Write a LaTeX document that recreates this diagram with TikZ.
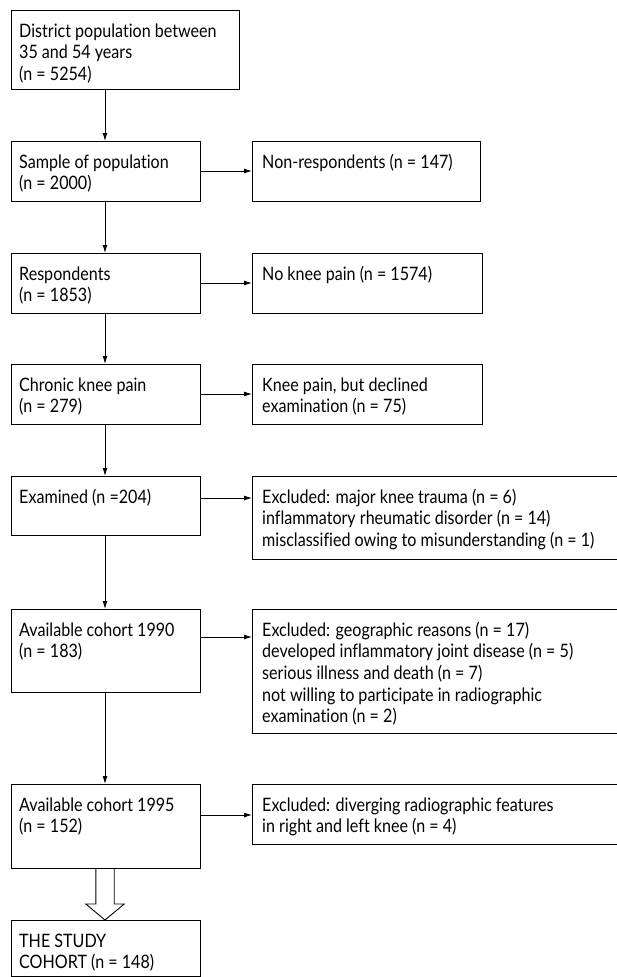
\documentclass[tikz,border=0pt]{standalone}
\usepackage{fontspec}
\setmainfont{Lato}[FakeStretch=0.87, Ligatures=NoCommon]
\usetikzlibrary{arrows.meta,calc}
\tikzset{
  box/.style={draw, line width=1pt, anchor=north west, inner sep=0pt, outer sep=0pt},
  txt/.style={anchor=base west, inner sep=0pt, font=\fontsize{18.5}{21.7}\selectfont},
  arr/.style={line width=0.9pt, -{Latex[length=8pt,width=5pt]}},
}
\newcommand\tl[1]{\begin{tabular}[t]{@{}l@{}}#1\end{tabular}}
\begin{document}
\begin{tikzpicture}[x=1pt,y=-1pt]
\useasboundingbox[fill=white] (0,0) rectangle (616,977);
\coordinate (ax) at (105,0);
% left column
\node[box, minimum width=228pt, minimum height=79pt] (b1) at (11,10) {};
\node[box, minimum width=189.5pt, minimum height=60pt] (b2) at (11,141) {};
\node[box, minimum width=189.5pt, minimum height=60pt] (b3) at (11,253) {};
\node[box, minimum width=189.5pt, minimum height=60pt] (b4) at (11,364) {};
\node[box, minimum width=189.5pt, minimum height=59pt] (b5) at (11,476) {};
\node[box, minimum width=189.5pt, minimum height=83pt] (b6) at (11,609) {};
\node[box, minimum width=189.5pt, minimum height=84pt] (b7) at (11,784) {};
\node[box, minimum width=189.5pt, minimum height=56pt] (b8) at (11,920) {};
% right column
\node[box, minimum width=228pt, minimum height=60pt] (r2) at (252,141) {};
\node[box, minimum width=230pt, minimum height=60pt] (r3) at (252,253) {};
\node[box, minimum width=230pt, minimum height=60pt] (r4) at (252,364) {};
\node[box, minimum width=366pt, minimum height=83pt] (r5) at (252,476) {};
\node[box, minimum width=366pt, minimum height=124pt] (r6) at (252,609) {};
\node[box, minimum width=366pt, minimum height=60pt] (r7) at (252,784) {};
% texts
\node[txt] (t1) at ([xshift=8pt,yshift=-27pt]b1.north west) {\tl{District population between\\35 and 54 years\\(n = 5254)}};
\node[txt] (t2) at ([xshift=8pt,yshift=-27pt]b2.north west) {\tl{Sample of population\\(n = 2000)}};
\node[txt] (t3) at ([xshift=8pt,yshift=-27pt]b3.north west) {\tl{Respondents\\(n = 1853)}};
\node[txt] (t4) at ([xshift=8pt,yshift=-27pt]b4.north west) {\tl{Chronic knee pain\\(n = 279)}};
\node[txt] (t5) at ([xshift=8pt,yshift=-27pt]b5.north west) {\tl{Examined (n =204)}};
\node[txt] (t6) at ([xshift=8pt,yshift=-27pt]b6.north west) {\tl{Available cohort 1990\\(n = 183)}};
\node[txt] (t7) at ([xshift=8pt,yshift=-27pt]b7.north west) {\tl{Available cohort 1995\\(n = 152)}};
\node[txt] (t8) at ([xshift=8pt,yshift=-27pt]b8.north west) {\tl{THE STUDY\\COHORT (n = 148)}};
\node[txt] (s2) at ([xshift=10pt,yshift=-27pt]r2.north west) {\tl{Non-respondents (n = 147)}};
\node[txt] (s3) at ([xshift=10pt,yshift=-27pt]r3.north west) {\tl{No knee pain (n = 1574)}};
\node[txt] (s4) at ([xshift=10pt,yshift=-27pt]r4.north west) {\tl{Knee pain, but declined\\examination (n = 75)}};
\node[txt] (s5) at ([xshift=10pt,yshift=-27pt]r5.north west) {\tl{Excluded: major knee trauma (n = 6)\\inflammatory rheumatic disorder (n = 14)\\misclassified owing to misunderstanding (n = 1)}};
\node[txt] (s6) at ([xshift=10pt,yshift=-27pt]r6.north west) {\tl{Excluded: geographic reasons (n = 17)\\developed inflammatory joint disease (n = 5)\\serious illness and death (n = 7)\\not willing to participate in radiographic\\examination (n = 2)}};
\node[txt] (s7) at ([xshift=10pt,yshift=-27pt]r7.north west) {\tl{Excluded: diverging radiographic features\\in right and left knee (n = 4)}};
% vertical arrows
\draw[arr] (b1.south -| ax) -- (b2.north -| ax);
\draw[arr] (b2.south -| ax) -- (b3.north -| ax);
\draw[arr] (b3.south -| ax) -- (b4.north -| ax);
\draw[arr] (b4.south -| ax) -- (b5.north -| ax);
\draw[arr] (b5.south -| ax) -- (b6.north -| ax);
\draw[arr] (b6.south -| ax) -- (b7.north -| ax);
% horizontal arrows
\draw[arr] ([yshift=-30pt]b2.north east) -- ([yshift=-30pt]b2.north east -| r2.west);
\draw[arr] ([yshift=-30pt]b3.north east) -- ([yshift=-30pt]b3.north east -| r3.west);
\draw[arr] ([yshift=-30pt]b4.north east) -- ([yshift=-30pt]b4.north east -| r4.west);
\draw[arr] ([yshift=-22pt]b5.north east) -- ([yshift=-22pt]b5.north east -| r5.west);
\draw[arr] ([yshift=-28pt]b6.north east) -- ([yshift=-28pt]b6.north east -| r6.west);
\draw[arr] ([yshift=-31pt]b7.north east) -- ([yshift=-31pt]b7.north east -| r7.west);
% hollow block arrow
\draw[line width=0.9pt, line join=miter]
  ($(b7.south -| ax)+(-9.2,0)$) -- ($(b8.north -| ax)+(-9.2,-16)$) -- ($(b8.north -| ax)+(-19.2,-16)$)
  -- (b8.north -| ax) -- ($(b8.north -| ax)+(19.2,-16)$) -- ($(b8.north -| ax)+(9.2,-16)$) -- ($(b7.south -| ax)+(9.2,0)$);
\end{tikzpicture}
\end{document}
